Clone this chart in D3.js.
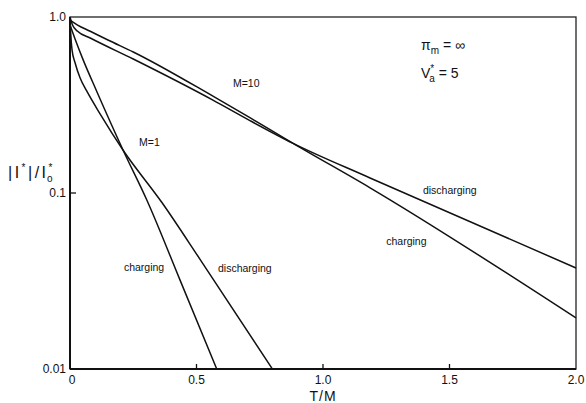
<!DOCTYPE html>
<html lang="en">
<head>
  <meta charset="UTF-8">
  <title>Current decay</title>
  <script src="https://d3js.org/d3.v7.min.js"></script>
  <style>
    body {
      margin: 0;
      background: #fff;
      font-family: "Liberation Sans", Arial, sans-serif;
    }
    .curve {
      fill: none;
      stroke: #111;
      stroke-width: 1.5px;
    }
    .lbl {
      font-size: 10.5px;
      fill: #111;
    }
    .tick-lbl {
      font-size: 12px;
      fill: #111;
    }
  </style>
</head>
<body>
  <div id="chart"></div>
  <script>
    // values: T/M vs |I*|/I0*
    const m10Charging = [
      [0, 0.96], [0.03, 0.9], [0.08, 0.83], [0.15, 0.74], [0.25, 0.633],
      [0.565, 0.355], [0.711, 0.268], [0.88, 0.192], [1.186, 0.107], [2.0, 0.0195]
    ];
    const m10Discharging = [
      [0, 1.0], [0.01, 0.9], [0.03, 0.83], [0.08, 0.76], [0.25, 0.577],
      [0.565, 0.337], [0.711, 0.258], [0.88, 0.192], [1.186, 0.1217], [2.0, 0.0375]
    ];
    const m1Charging = [
      [0, 0.9], [0.02, 0.75], [0.05, 0.58], [0.105, 0.38], [0.21, 0.175],
      [0.304, 0.091], [0.435, 0.032], [0.58, 0.01]
    ];
    const m1Discharging = [
      [0, 1.0], [0.003, 0.8], [0.008, 0.65], [0.02, 0.55], [0.04, 0.45],
      [0.066, 0.38], [0.12, 0.28], [0.21, 0.175], [0.364, 0.088],
      [0.514, 0.042], [0.8, 0.01]
    ];

    const xTicks = [0, 0.5, 1.0, 1.5, 2.0];
    const xTickLabels = ["0", "0.5", "1.0", "1.5", "2.0"];
    const yTicks = [1.0, 0.1, 0.01];
    const yTickLabels = ["1.0", "0.1", "0.01"];

    const width = 586, height = 403;
    const margin = { top: 17, right: 10, bottom: 34, left: 70 };

    const svg = d3.select("#chart").append("svg")
      .attr("width", width)
      .attr("height", height);

    const x = d3.scaleLinear()
      .domain([0, 2])
      .range([margin.left, width - margin.right]);

    const y = d3.scaleLog()
      .domain([0.01, 1])
      .range([height - margin.bottom, margin.top]);

    // frame
    svg.append("rect")
      .attr("x", x(0)).attr("y", y(1))
      .attr("width", x(2) - x(0)).attr("height", y(0.01) - y(1))
      .attr("fill", "none").attr("stroke", "#222").attr("stroke-width", 1.3);
    svg.append("line")
      .attr("x1", x(0)).attr("x2", x(0)).attr("y1", y(1)).attr("y2", y(0.01))
      .attr("stroke", "#111").attr("stroke-width", 2);
    svg.append("line")
      .attr("x1", x(0)).attr("x2", x(2)).attr("y1", y(0.01)).attr("y2", y(0.01))
      .attr("stroke", "#111").attr("stroke-width", 2);

    // ticks (inward)
    xTicks.slice(1, -1).forEach(t => {
      svg.append("line")
        .attr("x1", x(t)).attr("x2", x(t))
        .attr("y1", y(0.01)).attr("y2", y(0.01) - 5)
        .attr("stroke", "#111").attr("stroke-width", 1.3);
    });
    svg.append("line")
      .attr("x1", x(0)).attr("x2", x(0) + 6)
      .attr("y1", y(0.1)).attr("y2", y(0.1))
      .attr("stroke", "#111").attr("stroke-width", 1.3);

    svg.selectAll(".xl")
      .data(xTicks)
      .join("text")
      .attr("class", "tick-lbl")
      .attr("x", (d, i) => x(d) + (i === 0 ? 2 : 0))
      .attr("y", y(0.01) + 15)
      .attr("text-anchor", "middle")
      .text((d, i) => xTickLabels[i]);

    svg.selectAll(".yl")
      .data(yTicks)
      .join("text")
      .attr("class", "tick-lbl")
      .attr("x", x(0) - 4)
      .attr("y", d => y(d) + 4)
      .attr("text-anchor", "end")
      .text((d, i) => yTickLabels[i]);

    // axis titles
    svg.append("text")
      .attr("class", "tick-lbl")
      .attr("x", x(1.0))
      .attr("y", 401)
      .attr("text-anchor", "middle")
      .style("font-size", "14px")
      .style("letter-spacing", "1px")
      .text("T/M");

    const yt = svg.append("text")
      .attr("class", "tick-lbl")
      .attr("x", 8)
      .attr("y", 178)
      .style("font-size", "16px")
      .style("letter-spacing", "2.5px");
    yt.append("tspan").text("|I");
    yt.append("tspan").attr("dy", -7).style("font-size", "10px").text("*");
    yt.append("tspan").attr("dy", 7).text("|/I");
    yt.append("tspan").attr("dy", -7).style("font-size", "10px").text("*");
    yt.append("tspan").attr("dx", -8).attr("dy", 11).style("font-size", "10px").text("o");

    // curves
    const line = d3.line()
      .x(d => x(d[0]))
      .y(d => y(d[1]))
      .curve(d3.curveMonotoneX);

    [m10Charging, m10Discharging, m1Charging, m1Discharging].forEach(s => {
      svg.append("path")
        .datum(s)
        .attr("class", "curve")
        .attr("d", line);
    });

    // annotations
    const notes = [
      { t: "M=10", x: 0.644, y: 0.40 },
      { t: "M=1", x: 0.273, y: 0.185 },
      { t: "charging", x: 0.213, y: 0.036 },
      { t: "discharging", x: 0.585, y: 0.0356 },
      { t: "discharging", x: 1.395, y: 0.099 },
      { t: "charging", x: 1.25, y: 0.0505 }
    ];
    svg.selectAll(".note")
      .data(notes)
      .join("text")
      .attr("class", "lbl")
      .attr("x", d => x(d.x))
      .attr("y", d => y(d.y))
      .text(d => d.t);

    const p = svg.append("text")
      .attr("class", "tick-lbl")
      .attr("x", 421).attr("y", 50)
      .style("font-size", "14px");
    p.append("tspan").text("π");
    p.append("tspan").attr("dy", 4).style("font-size", "10px").text("m");
    p.append("tspan").attr("dy", -4).text(" = ∞");

    const v = svg.append("text")
      .attr("class", "tick-lbl")
      .attr("x", 421).attr("y", 78)
      .style("font-size", "14px");
    v.append("tspan").text("V");
    v.append("tspan").attr("dy", -6).style("font-size", "10px").text("*");
    v.append("tspan").attr("dx", -5).attr("dy", 10).style("font-size", "10px").text("a");
    v.append("tspan").attr("dy", -4).text(" = 5");
  </script>
</body>
</html>
